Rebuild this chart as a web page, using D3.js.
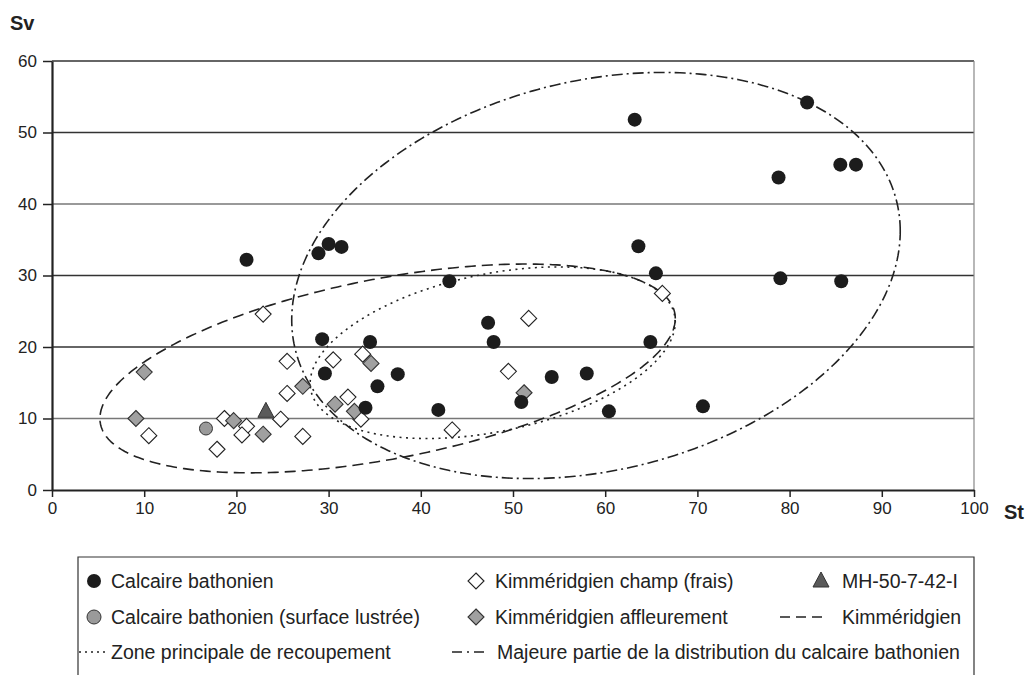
<!DOCTYPE html>
<html><head><meta charset="utf-8">
<script src="https://cdn.jsdelivr.net/npm/d3@7/dist/d3.min.js"></script>
<style>body{margin:0;background:#fff}svg{display:block;font-family:"Liberation Sans",Arial,sans-serif}</style>
</head><body><svg id="c" width="1028" height="675"></svg>
<script>
// ---- data ----
const xTicks = [0,10,20,30,40,50,60,70,80,90,100];
const yTicks = [0,10,20,30,40,50,60];
const bathX = [21.1,28.9,30.0,31.4,29.3,34.5,29.6,35.3,34.0,43.1,47.3,47.9,37.5,41.9,50.9,54.2,63.2,63.6,65.5,64.9,58.0,60.4,70.6,81.9,78.8,85.5,87.2,79.0,85.6];
const bathY = [32.2,33.1,34.4,34.0,21.1,20.7,16.3,14.5,11.5,29.2,23.4,20.7,16.2,11.2,12.3,15.8,51.8,34.1,30.3,20.7,16.3,11.0,11.7,54.2,43.7,45.5,45.5,29.6,29.2];
const lustreX = [16.7];
const lustreY = [8.6];
const champX = [22.9,25.5,30.5,33.7,25.5,32.1,18.7,21.1,20.6,24.8,10.5,17.9,27.2,33.5,51.7,49.5,43.4,66.2];
const champY = [24.6,18.0,18.2,19.0,13.5,13.0,10.0,8.9,7.7,9.9,7.6,5.7,7.5,9.9,24.0,16.6,8.4,27.5];
const afflX = [10.0,9.1,19.7,22.9,27.2,30.7,32.8,34.6,51.2];
const afflY = [16.5,10.0,9.7,7.8,14.5,12.0,11.0,17.7,13.6];
const mhX = [23.2];
const mhY = [11.0];
// ellipses: centre, half-width, half-height, y-offset at right extreme (data units)
const ellKimm = {cx:36.4, cy:17.0, rx:31.2, ry:14.6, dyr:7.0};
const ellZone = {cx:47.8, cy:19.2, rx:19.8, ry:12.0, dyr:4.3};
const ellBath = {cx:59.0, cy:30.0, rx:33.0, ry:28.4, dyr:6.2};
const legendLabels = ["Calcaire bathonien","Kimméridgien champ (frais)","MH-50-7-42-I",
  "Calcaire bathonien (surface lustrée)","Kimméridgien affleurement","Kimméridgien",
  "Zone principale de recoupement","Majeure partie de la distribution du calcaire bathonien"];

// ---- drawing ----
const svg = d3.select("#c");
const L=52, R=974, T=61, B=490;
const x = d3.scaleLinear().domain([0,100]).range([L,R]);
const y = d3.scaleLinear().domain([0,60]).range([B,T]);

// grid
svg.append("g").selectAll("line").data(yTicks.filter(d=>d>0)).join("line")
  .attr("x1",L).attr("x2",R).attr("y1",d=>y(d)).attr("y2",d=>y(d))
  .attr("stroke",(d,i)=> (d===40||d===10)?"#777":"#333").attr("stroke-width",1.3);
svg.append("line").attr("x1",R).attr("x2",R).attr("y1",T).attr("y2",B).attr("stroke","#888").attr("stroke-width",1.2);

// axes
const xa = svg.append("g").attr("transform",`translate(0,${B})`)
  .call(d3.axisBottom(x).tickValues(xTicks).tickSize(7).tickSizeOuter(0).tickFormat(d3.format("d")));
const ya = svg.append("g").attr("transform",`translate(${L},0)`)
  .call(d3.axisLeft(y).tickValues(yTicks).tickSize(9).tickSizeOuter(0).tickFormat(d3.format("d")));
[xa,ya].forEach(a=>{
  a.select(".domain").attr("stroke","#222").attr("stroke-width",2.2);
  a.selectAll(".tick line").attr("stroke","#222").attr("stroke-width",1.5);
  a.selectAll(".tick text").attr("font-size",17).attr("fill","#222").attr("font-family","Liberation Sans, Arial, sans-serif");
});
xa.selectAll(".tick text").attr("dy","0.71em").attr("y",12);
ya.selectAll(".tick text").attr("x",-15);
svg.append("text").attr("x",10).attr("y",30).text("Sv").attr("font-weight","bold").attr("font-size",20).attr("fill","#222");
svg.append("text").attr("x",1004).attr("y",519).text("St").attr("font-weight","bold").attr("font-size",20).attr("fill","#222");

// ellipses
function ellPts(e){
  const k = Math.sqrt(e.ry*e.ry - e.dyr*e.dyr);
  return d3.range(0,360,1).map(a=>{const t=a*Math.PI/180;
    return [x(e.cx + e.rx*Math.cos(t)), y(e.cy + e.dyr*Math.cos(t) + k*Math.sin(t))];});
}
const line = d3.line().curve(d3.curveLinearClosed);
const ellStyle = [[ellKimm,"11,6"],[ellZone,"2,4.5"],[ellBath,"11,4,2,4"]];
ellStyle.forEach(([e,da])=>{
  svg.append("path").attr("d",line(ellPts(e))).attr("fill","none").attr("stroke","#222")
    .attr("stroke-width",1.6).attr("stroke-dasharray",da);
});

// markers
const diamond = s=>`M0,${-s}L${s},0L0,${s}L${-s},0Z`;
const tri = "M0,-9L8,6L-8,6Z";
function pts(xs,ys){return xs.map((v,i)=>[v,ys[i]]);}
const gM = svg.append("g");
gM.selectAll(".lu").data(pts(lustreX,lustreY)).join("circle")
  .attr("cx",d=>x(d[0])).attr("cy",d=>y(d[1])).attr("r",6.5).attr("fill","#9a9a9a").attr("stroke","#333").attr("stroke-width",1);
gM.selectAll(".ch").data(pts(champX,champY)).join("path").attr("class","ch")
  .attr("transform",d=>`translate(${x(d[0])},${y(d[1])})`).attr("d",diamond(8)).attr("fill","#fff").attr("stroke","#222").attr("stroke-width",1.1);
gM.selectAll(".af").data(pts(afflX,afflY)).join("path").attr("class","af")
  .attr("transform",d=>`translate(${x(d[0])},${y(d[1])})`).attr("d",diamond(8)).attr("fill","#a0a0a0").attr("stroke","#333").attr("stroke-width",1.1);
gM.selectAll(".mh").data(pts(mhX,mhY)).join("path").attr("class","mh")
  .attr("transform",d=>`translate(${x(d[0])},${y(d[1])})`).attr("d",tri).attr("fill","#5a5a5a").attr("stroke","#333").attr("stroke-width",1);
gM.selectAll(".ba").data(pts(bathX,bathY)).join("circle").attr("class","ba")
  .attr("cx",d=>x(d[0])).attr("cy",d=>y(d[1])).attr("r",7).attr("fill","#1c1c1c");

// legend
const lg = svg.append("g");
lg.append("path").attr("d","M78,700V557H974V700").attr("fill","none").attr("stroke","#333").attr("stroke-width",1.2);
const rows=[581,617,652], colM=[94,476,821], colT=[111,495,842];
const items = [
  {c:0,r:0,k:"bath"},{c:1,r:0,k:"champ"},{c:2,r:0,k:"mh"},
  {c:0,r:1,k:"lustre"},{c:1,r:1,k:"affl"},{c:2,r:1,k:"dash"},
  {c:0,r:2,k:"dot"},{c:1,r:2,k:"dashdot"}];
items.forEach((it,i)=>{
  const cx=colM[it.c], cy=rows[it.r];
  let tx=colT[it.c];
  if(it.k==="bath") lg.append("circle").attr("cx",cx).attr("cy",cy).attr("r",7).attr("fill","#1c1c1c");
  if(it.k==="lustre") lg.append("circle").attr("cx",cx).attr("cy",cy).attr("r",7).attr("fill","#9a9a9a").attr("stroke","#333");
  if(it.k==="champ") lg.append("path").attr("transform",`translate(${cx},${cy})`).attr("d",diamond(8)).attr("fill","#fff").attr("stroke","#222").attr("stroke-width",1.1);
  if(it.k==="affl") lg.append("path").attr("transform",`translate(${cx},${cy})`).attr("d",diamond(8)).attr("fill","#a0a0a0").attr("stroke","#333").attr("stroke-width",1.1);
  if(it.k==="mh") lg.append("path").attr("transform",`translate(${cx},${cy})`).attr("d",tri).attr("fill","#5a5a5a").attr("stroke","#333");
  if(it.k==="dash") lg.append("line").attr("x1",780).attr("x2",824).attr("y1",cy).attr("y2",cy).attr("stroke","#222").attr("stroke-width",1.4).attr("stroke-dasharray","10,6");
  if(it.k==="dot") { lg.append("line").attr("x1",79).attr("x2",107).attr("y1",cy).attr("y2",cy).attr("stroke","#222").attr("stroke-width",1.4).attr("stroke-dasharray","2,4"); }
  if(it.k==="dashdot") { lg.append("line").attr("x1",452).attr("x2",484).attr("y1",cy).attr("y2",cy).attr("stroke","#222").attr("stroke-width",1.4).attr("stroke-dasharray","10,5,2,5"); tx=497; }
  lg.append("text").attr("x",tx).attr("y",cy).attr("dy","0.36em").attr("font-size",19.5).attr("fill","#222").text(legendLabels[i]);
});
</script></body></html>
